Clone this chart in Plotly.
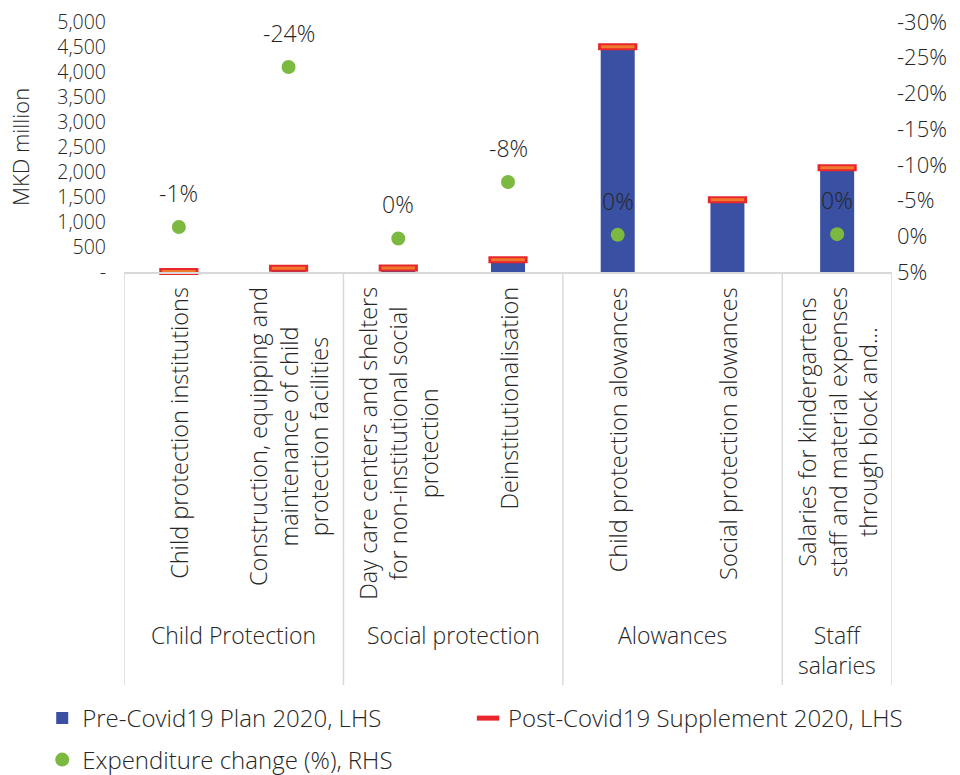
import plotly.graph_objects as go

categories = [
    "Child protection institutions",
    "Construction, equipping and maintenance of child protection facilities",
    "Day care centers and shelters for non-institutional social protection",
    "Deinstitutionalisation",
    "Child protection alowances",
    "Social protection alowances",
    "Salaries for kindergartens staff and material expenses through block and...",
]
category_labels = [
    "Child protection institutions",
    "Construction, equipping and<br>maintenance of child<br>protection facilities",
    "Day care centers and shelters<br>for non-institutional social<br>protection",
    "Deinstitutionalisation",
    "Child protection alowances",
    "Social protection alowances",
    "Salaries for kindergartens<br>staff and material expenses<br>through block and...",
]
groups = ["Child Protection", "Social protection", "Alowances", "Staff<br>salaries"]
group_members = [[0, 1], [2, 3], [4, 5], [6]]

pre_plan = [12, 100, 82, 265, 4505, 1445, 2085]
post_supp = [12, 76, 82, 245, 4505, 1445, 2085]
exp_change = [-1.3, -23.7, 0.3, -7.6, -0.2, None, -0.3]

left_ticks = [0, 500, 1000, 1500, 2000, 2500, 3000, 3500, 4000, 4500, 5000]
left_ticktext = ["-", "500", "1,000", "1,500", "2,000", "2,500", "3,000", "3,500", "4,000", "4,500", "5,000"]
right_ticks = [-30, -25, -20, -15, -10, -5, 0, 5]
right_ticktext = ["-30%", "-25%", "-20%", "-15%", "-10%", "-5%", "0%", "5%"]

FONT = "Open Sans"
FS = 22
TXT = "#262626"
BLUE = "#3a50a2"
RED = "#e8262b"
ORANGE = "#f07a2c"
GREEN = "#7cb940"
GRID = "#d9d9d9"

def f(size=FS):
    return dict(family=FONT, size=size, color=TXT, weight=300)

fig = go.Figure()
fig.add_trace(go.Bar(x=categories, y=pre_plan, name="Pre-Covid19 Plan 2020, LHS",
                     marker=dict(color=BLUE, line=dict(width=0)), width=0.31, legend="legend"))
fig.add_trace(go.Scatter(x=categories, y=post_supp, mode="markers", name="Post-Covid19 Supplement 2020, LHS",
                         marker=dict(symbol="line-ew", size=28, color=RED, line=dict(width=7, color=RED)),
                         cliponaxis=False, legend="legend3"))
fig.add_trace(go.Scatter(x=categories, y=post_supp, mode="markers", showlegend=False, hoverinfo="skip",
                         marker=dict(symbol="line-ew", size=24, color=ORANGE, line=dict(width=3, color=ORANGE)),
                         cliponaxis=False))
fig.add_trace(go.Scatter(x=categories, y=exp_change, mode="markers", name="Expenditure change (%), RHS",
                         yaxis="y2", marker=dict(symbol="circle", size=14, color=GREEN),
                         cliponaxis=False, legend="legend2"))

annotations = []
for c, v in zip(categories, exp_change):
    if v is None:
        continue
    annotations.append(dict(x=c, y=v, xref="x", yref="y2", text=f"{int(round(v))}%",
                            showarrow=False, yshift=34, font=f(23)))
for c, lab in zip(categories, category_labels):
    annotations.append(dict(x=c, y=0, xref="x", yref="paper", text=lab, textangle=-90,
                            showarrow=False, yanchor="top", xanchor="center", yshift=-13,
                            font=f(23.5)))
for g, members in zip(groups, group_members):
    annotations.append(dict(x=sum(members) / len(members), y=0, xref="x", yref="paper", text=g,
                            showarrow=False, yanchor="top", xanchor="center", yshift=-345,
                            font=f(23)))

shapes = []
bounds = [min(m) - 0.5 for m in group_members] + [max(group_members[-1]) + 0.5]
for b in bounds:
    shapes.append(dict(type="line", xref="x", yref="paper", x0=b, x1=b, y0=0, y1=-1.652,
                       line=dict(color=GRID, width=1.5)))

leg_common = dict(orientation="h", xanchor="left", yanchor="top", font=f(24),
                  bgcolor="rgba(0,0,0,0)", itemwidth=30)

fig.update_layout(
    width=960, height=775,
    margin=dict(l=124, r=68, t=22, b=503, autoexpand=False),
    paper_bgcolor="white", plot_bgcolor="white",
    font=f(),
    barmode="overlay",
    showlegend=True,
    xaxis=dict(type="category", range=[-0.5, 6.5], showticklabels=False, showgrid=False,
               showline=True, linecolor=GRID, linewidth=1.5, ticks="", zeroline=False),
    yaxis=dict(range=[0, 5000], tickvals=left_ticks, ticktext=left_ticktext, showgrid=False,
               zeroline=False, showline=False, ticks="", ticklabelstandoff=17, tickfont=f(19.5),
               title=dict(text="MKD million", standoff=21, font=f())),
    yaxis2=dict(overlaying="y", side="right", range=[5, -30], tickvals=right_ticks,
                ticktext=right_ticktext, showgrid=False, zeroline=False, showline=False,
                ticks="", ticklabelstandoff=4, tickfont=f()),
    legend=dict(x=-0.1065, y=-1.696, **leg_common),
    legend3=dict(x=0.448, y=-1.696, **leg_common),
    legend2=dict(x=-0.1065, y=-1.862, **leg_common),
    annotations=annotations,
    shapes=shapes,
)

fig.write_html("out.html", config={"displayModeBar": False},
               post_script="document.body.style.margin='0px';")
